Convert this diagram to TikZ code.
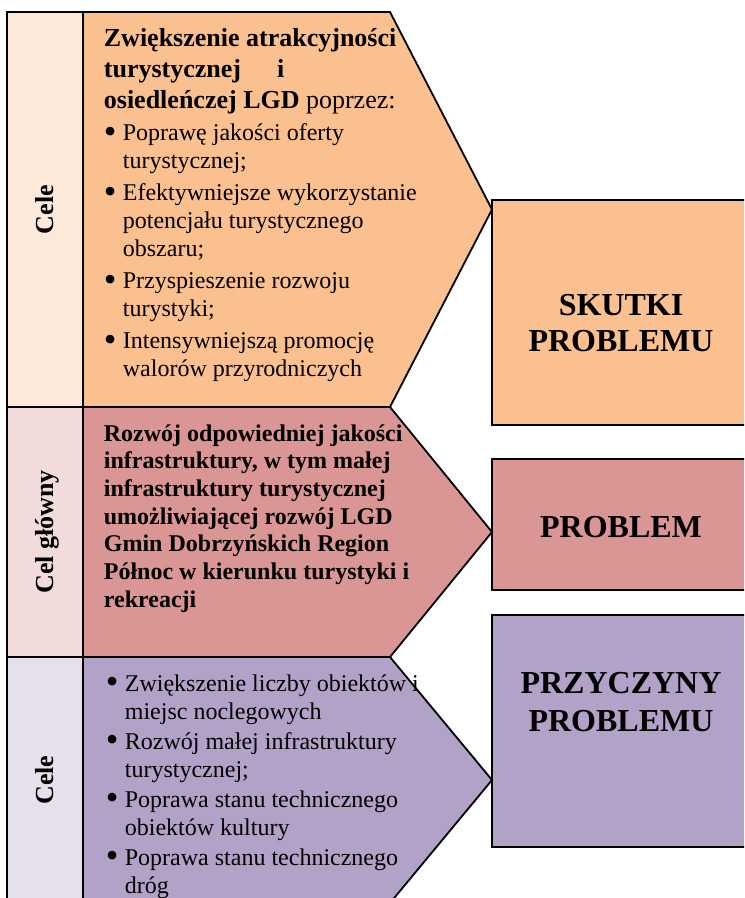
\documentclass[tikz,border=0pt]{standalone}
\usepackage{fontspec}
\setmainfont{Liberation Serif}
\definecolor{pomar}{HTML}{FAC090}
\definecolor{pomarjasny}{HTML}{FDE9D9}
\definecolor{czerw}{HTML}{D99694}
\definecolor{czerwjasny}{HTML}{F2DCDB}
\definecolor{fiolet}{HTML}{B3A2C7}
\definecolor{fioletjasny}{HTML}{E5E0EC}
\def\strzalka[#1](#2:#3){\draw[#1] (83,#2) -- (390,#2) -- (492,{(#2+#3)/2}) -- (390,#3) -- (83,#3) -- cycle;}
\newcommand\punkt{\par\hangindent=9.5pt\hangafter=1\noindent\makebox[9.5pt][l]{\raisebox{-1.4pt}{\fontsize{18}{18}\selectfont\textbullet}}}
\tikzset{
	pion/.style={rotate=90, anchor=base, inner sep=0, font=\fontsize{13}{15}\selectfont\bfseries},
	tekst/.style={anchor=base west, inner sep=0},
	napis/.style={anchor=base, inner sep=0, font=\fontsize{16}{18.5}\selectfont\bfseries}
}

\begin{document}
\begin{tikzpicture}[x=0.5pt, y=-0.5pt, line width=0.9pt]
	%%%%% START %%%%%
	\useasboundingbox (0,0) rectangle (744,898);
	\clip (0,0) rectangle (744,898);
	
	% cele - gora
	\draw[fill=pomarjasny] (7,12) rectangle (83,407);
	\strzalka[fill=pomar](12:407);
	\node[pion] (cele1) at (53,209.5) {Cele};
	\node[tekst] (cele1txt) at (103,46.5) {\parbox[t]{200pt}{\parindent=0pt\parskip=2pt
		\fontsize{13}{15.5}\selectfont\bfseries
		Zwiększenie atrakcyjności\newline
		turystycznej\hspace{18pt}i\newline
		osiedleńczej LGD {\mdseries poprzez:}\par
		\fontsize{12}{14}\selectfont\mdseries
		\punkt Poprawę jakości oferty\newline turystycznej;
		\punkt Efektywniejsze wykorzystanie\newline potencjału turystycznego\newline obszaru;
		\punkt Przyspieszenie rozwoju\newline turystyki;
		\punkt Intensywniejszą promocję\newline walorów przyrodniczych\par}};
	
	% cel glowny
	\draw[fill=czerwjasny] (7,407) rectangle (83,657);
	\strzalka[fill=czerw](407:657);
	\node[pion] (celglowny) at (53,532) {Cel główny};
	\node[tekst] (celglownytxt) at (103,441) {\parbox[t]{200pt}{\parindent=0pt
		\fontsize{12}{13.85}\selectfont\bfseries
		Rozwój odpowiedniej jakości\newline
		infrastruktury, w tym małej\newline
		infrastruktury turystycznej\newline
		umożliwiającej rozwój LGD\newline
		Gmin Dobrzyńskich Region\newline
		Północ w kierunku turystyki i\newline
		rekreacji\par}};
	
	% cele - dol
	\draw[fill=fioletjasny] (7,657) rectangle (83,910);
	\strzalka[fill=fiolet](657:903);
	\node[pion] (cele3) at (53,780) {Cele};
	\node[tekst] (cele3txt) at (105,691) {\parbox[t]{200pt}{\parindent=0pt\parskip=1pt
		\fontsize{12}{14}\selectfont
		\punkt Zwiększenie liczby obiektów i\newline miejsc noclegowych
		\punkt Rozwój małej infrastruktury\newline turystycznej;
		\punkt Poprawa stanu technicznego\newline obiektów kultury
		\punkt Poprawa stanu technicznego\newline dróg\par}};
	
	% skutki, problem, przyczyny
	\draw[fill=pomar] (492,200) rectangle (752,425);
	\node[napis] (skutki) at (621,315) {\parbox[t]{200pt}{\centering\fontsize{16}{18}\selectfont SKUTKI\\PROBLEMU}};
	
	\draw[fill=czerw] (492,459) rectangle (752,590);
	\node[napis] (problem) at (621,537) {PROBLEM};
	
	\draw[fill=fiolet] (492,615) rectangle (752,847);
	\node[napis] (przyczyny) at (621,693) {\parbox[t]{200pt}{\centering\fontsize{16}{19}\selectfont PRZYCZYNY\\PROBLEMU}};
	%%%%% END %%%%%
\end{tikzpicture}
\end{document}
